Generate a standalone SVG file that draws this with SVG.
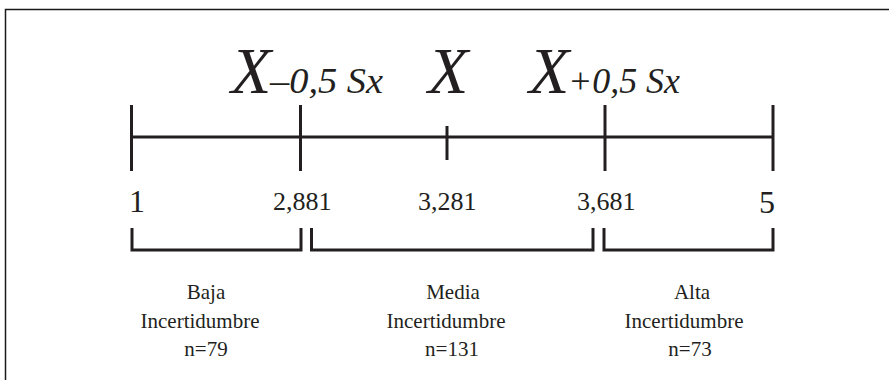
<svg xmlns="http://www.w3.org/2000/svg" width="889" height="380" viewBox="0 0 889 380">
<style>
.ln{stroke:#231f20;stroke-width:3;fill:none;stroke-linecap:butt}
.frame{stroke:#1a1a1a;stroke-width:1.5;fill:none}
.t{font-family:"Liberation Serif","Times New Roman",serif;fill:#231f20}
.big{font-size:66px;font-style:italic}
.sub{font-size:36px;font-style:italic}
.num{font-size:26px}
.end{font-size:32px}
.lab{font-size:21px;text-anchor:middle}
</style>
<rect width="889" height="380" fill="#fff"/>
<path class="frame" d="M5.5 380 V9.5 H889"/>
<g id="connectors">
<path class="ln" d="M131 137 H773"/>
<path class="ln" d="M131.5 105 V171"/>
<path class="ln" d="M300.5 105 V171"/>
<path class="ln" d="M447 126 V160"/>
<path class="ln" d="M605 105 V171"/>
<path class="ln" d="M773 105 V171"/>
</g>
<g id="label-xminus">
<text class="t big" x="231" y="93">X</text>
<text class="t sub" x="270" y="93" textLength="113" lengthAdjust="spacingAndGlyphs">–0,5 Sx</text>
</g>
<g id="label-xmean">
<text class="t big" x="428" y="93">X</text>
</g>
<g id="label-xplus">
<text class="t big" x="529" y="93">X</text>
<text class="t sub" x="568" y="93" textLength="112" lengthAdjust="spacingAndGlyphs">+0,5 Sx</text>
</g>
<g id="axis-values">
<text class="t end" x="129" y="212">1</text>
<text class="t num" x="273" y="210">2,881</text>
<text class="t num" x="418" y="210">3,281</text>
<text class="t num" x="577" y="210">3,681</text>
<text class="t end" x="759" y="212.5">5</text>
</g>
<g id="baja">
<path class="ln" d="M132 228 V250 H301 V228"/>
<text class="t lab" x="206" y="299">Baja</text>
<text class="t lab" x="200" y="328">Incertidumbre</text>
<text class="t lab" x="206" y="356">n=79</text>
</g>
<g id="media">
<path class="ln" d="M311.5 228 V250 H593 V228"/>
<text class="t lab" x="453" y="299">Media</text>
<text class="t lab" x="446" y="328">Incertidumbre</text>
<text class="t lab" x="452" y="356">n=131</text>
</g>
<g id="alta">
<path class="ln" d="M604 228 V250 H773 V228"/>
<text class="t lab" x="692" y="299">Alta</text>
<text class="t lab" x="684" y="328">Incertidumbre</text>
<text class="t lab" x="690" y="356">n=73</text>
</g>
</svg>
